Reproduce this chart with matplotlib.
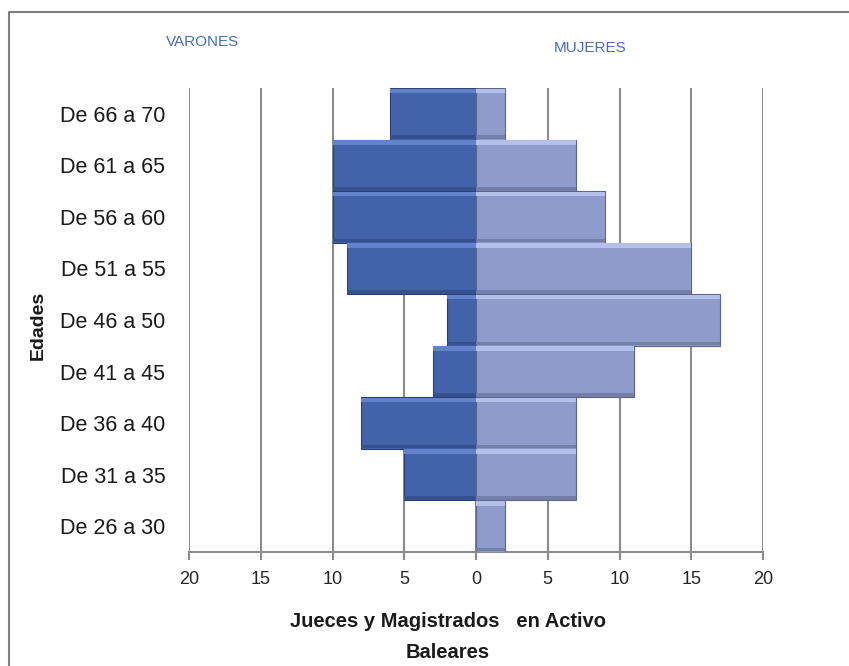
import matplotlib.pyplot as plt
import numpy as np
from matplotlib.lines import Line2D

edades = ['De 26 a 30', 'De 31 a 35', 'De 36 a 40', 'De 41 a 45', 'De 46 a 50',
          'De 51 a 55', 'De 56 a 60', 'De 61 a 65', 'De 66 a 70']
varones = [0, 5, 8, 3, 2, 9, 10, 10, 6]
mujeres = [2, 7, 7, 11, 17, 15, 9, 7, 2]
xticks = [-20, -15, -10, -5, 0, 5, 10, 15, 20]

plt.rcParams['font.family'] = ['Liberation Sans', 'DejaVu Sans']

fig = plt.figure(figsize=(8.49, 6.66), dpi=100)
ax = fig.add_axes([189/849, 1 - 552/666, (763 - 189)/849, (552 - 88)/666])

y = np.arange(len(edades))
h = 1.0
v = -np.array(varones)
m = np.array(mujeres)

# cuerpo de las barras
ax.barh(y, v, height=h, color='#4262aa', edgecolor='#2b3f70', linewidth=0.8, zorder=3)
ax.barh(y, m, height=h, color='#8e9bcb', edgecolor='#5c6590', linewidth=0.8, zorder=3)
# brillo superior y sombra inferior (efecto biselado)
ax.barh(y + 0.445, v, height=0.09, color='#6282cc', linewidth=0, zorder=4)
ax.barh(y + 0.445, m, height=0.09, color='#b4bfea', linewidth=0, zorder=4)
ax.barh(y - 0.455, v, height=0.07, color='#34508f', linewidth=0, zorder=4)
ax.barh(y - 0.455, m, height=0.07, color='#737ea9', linewidth=0, zorder=4)

ax.set_xlim(-20, 20)
ax.set_ylim(-0.5, len(edades) - 0.5)
ax.set_xticks(xticks)
ax.set_xticklabels([str(abs(t)) for t in xticks], fontsize=13, color='#262626')
ax.set_yticks(y)
ax.set_yticklabels(edades, fontsize=15.5, color='#1a1a1a')
ax.tick_params(axis='y', length=0, pad=17)
ax.tick_params(axis='x', length=6, width=1.5, color='#8c8c8c', pad=8)

ax.grid(axis='x', color='#8c8c8c', linewidth=1.5, zorder=0)
ax.set_axisbelow(True)
for s in ['top', 'right', 'left']:
    ax.spines[s].set_visible(False)
ax.spines['bottom'].set_color('#8c8c8c')
ax.spines['bottom'].set_linewidth(1.5)

ax.set_xlabel('Jueces y Magistrados   en Activo\nBaleares', fontsize=14.5,
              fontweight='bold', color='#1a1a1a', linespacing=1.75)
ax.xaxis.set_label_coords((448 - 189) / 574, -(637 - 552) / 464)
ax.xaxis.label.set_va('center')
fig.text(38/849, 1 - 325/666, 'Edades', rotation=90, fontsize=14, fontweight='bold',
         ha='center', va='center', color='#1a1a1a')

fig.text(203/849, 1 - 42/666, 'VARONES', fontsize=11, color='#4a6db0', ha='center', va='center')
fig.text(590/849, 1 - 48/666, 'MUJERES', fontsize=11, color='#4a6db0', ha='center', va='center')

# marco del gráfico
fig.add_artist(Line2D([9/849, 9/849, 1.0], [0, 1 - 12/666, 1 - 12/666],
                      transform=fig.transFigure, color='#7f7f7f', linewidth=1.5))

fig.savefig('out.png', dpi=100)
